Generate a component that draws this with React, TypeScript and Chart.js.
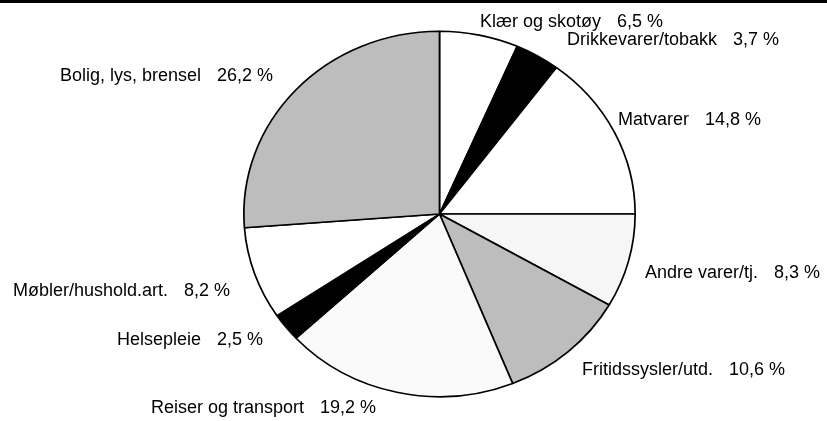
import React, { useEffect, useRef } from "react";
import { Chart, registerables } from "chart.js";

Chart.register(...registerables);

// ---- data ----
const categories = [
  "Klær og skotøy",
  "Drikkevarer/tobakk",
  "Matvarer",
  "Andre varer/tj.",
  "Fritidssysler/utd.",
  "Reiser og transport",
  "Helsepleie",
  "Møbler/hushold.art.",
  "Bolig, lys, brensel",
];
const shares = [6.5, 3.7, 14.8, 8.3, 10.6, 19.2, 2.5, 8.2, 26.2];

// ---- styles / layout ----
const sliceColors = [
  "#ffffff",
  "#000000",
  "#ffffff",
  "#f6f6f6",
  "#bdbdbd",
  "#fafafa",
  "#000000",
  "#ffffff",
  "#bdbdbd",
];
// text anchor: left x, baseline y
const labelX = [480, 567, 618, 645, 582, 151, 117, 13, 60];
const labelY = [27, 45, 125, 278, 375, 413, 345, 296, 81];
const valueGap = 16;
const xStretch = 196.5 / 183.5;

const fmt = (v: number) => v.toFixed(1).replace(".", ",") + " %";

const stretchPlugin = {
  id: "stretch",
  beforeDatasetsDraw(chart: any) {
    const ctx = chart.ctx;
    const arc = chart.getDatasetMeta(0).data[0];
    if (!arc) return;
    ctx.save();
    ctx.translate(arc.x, arc.y);
    ctx.scale(xStretch, 1);
    ctx.translate(-arc.x, -arc.y);
  },
  afterDatasetsDraw(chart: any) {
    chart.ctx.restore();
  },
};

const labelPlugin = {
  id: "outerLabels",
  afterDraw(chart: any) {
    const ctx = chart.ctx;
    ctx.save();
    ctx.font = '18px "Liberation Sans", Arial, sans-serif';
    ctx.fillStyle = "#000";
    ctx.textAlign = "left";
    ctx.textBaseline = "alphabetic";
    categories.forEach((name, i) => {
      const x = labelX[i];
      const y = labelY[i];
      ctx.fillText(name, x, y);
      const w = ctx.measureText(name).width;
      ctx.fillText(fmt(shares[i]), x + w + valueGap, y);
    });
    ctx.restore();
  },
};

export default function App() {
  const ref = useRef<HTMLCanvasElement | null>(null);
  useEffect(() => {
    if (!ref.current) return;
    const chart = new Chart(ref.current, {
      type: "pie",
      data: {
        labels: categories,
        datasets: [
          {
            data: shares,
            backgroundColor: sliceColors,
            borderColor: "#000",
            borderWidth: 1.6,
          },
        ],
      },
      options: {
        animation: false,
        responsive: true,
        maintainAspectRatio: false,
        layout: { padding: { left: 243, right: 191, top: 30.5, bottom: 23.5 } },
        plugins: {
          legend: { display: false },
          tooltip: { enabled: false },
        },
      },
      plugins: [stretchPlugin, labelPlugin],
    });
    return () => chart.destroy();
  }, []);
  return (
    <div
      style={{
        position: "absolute",
        left: 0,
        top: 0,
        width: 827,
        height: 421,
        background: "#fff",
      }}
    >
      <div
        style={{
          position: "absolute",
          left: 0,
          top: 0,
          width: 827,
          height: 3,
          background: "#000",
        }}
      />
      <canvas ref={ref} />
    </div>
  );
}
